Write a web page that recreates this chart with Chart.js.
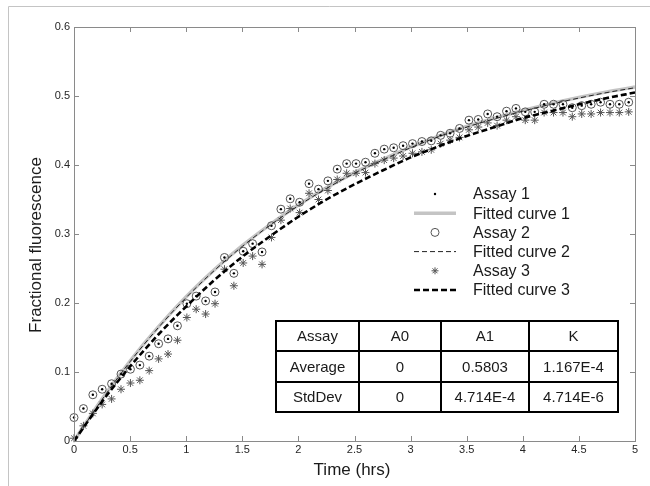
<!DOCTYPE html>
<html>
<head>
<meta charset="utf-8">
<title>Fractional fluorescence</title>
<script src="https://cdn.jsdelivr.net/npm/chart.js@4.4.1/dist/chart.umd.min.js"></script>
<style>
  body { margin: 0; background: #fff; }
  #wrap { position: relative; width: 650px; height: 486px; }
</style>
</head>
<body>
<div id="wrap"><canvas id="chart" width="650" height="486"></canvas></div>
<script>
// sample times (hrs), one reading about every 5 min
const timeHrs = [
  0, 0.084, 0.168, 0.251, 0.335, 0.419, 0.503, 0.587, 0.670, 0.754,
  0.838, 0.922, 1.006, 1.089, 1.173, 1.257, 1.341, 1.425, 1.508, 1.592,
  1.676, 1.760, 1.844, 1.927, 2.011, 2.095, 2.179, 2.263, 2.346, 2.430,
  2.514, 2.598, 2.682, 2.765, 2.849, 2.933, 3.017, 3.101, 3.184, 3.268,
  3.352, 3.436, 3.520, 3.603, 3.687, 3.771, 3.855, 3.939, 4.022, 4.106,
  4.190, 4.274, 4.358, 4.441, 4.525, 4.609, 4.693, 4.777, 4.860, 4.944
];

const assay1 = [
  0.034, 0.047, 0.067, 0.075, 0.083, 0.097, 0.104, 0.110, 0.123, 0.141,
  0.148, 0.167, 0.199, 0.210, 0.203, 0.216, 0.266, 0.243, 0.275, 0.286,
  0.274, 0.312, 0.336, 0.351, 0.346, 0.373, 0.365, 0.377, 0.394, 0.402,
  0.402, 0.404, 0.417, 0.423, 0.425, 0.428, 0.431, 0.434, 0.435, 0.443,
  0.446, 0.453, 0.465, 0.466, 0.474, 0.470, 0.478, 0.482, 0.477, 0.477,
  0.488, 0.488, 0.488, 0.483, 0.486, 0.488, 0.491, 0.488, 0.488, 0.491
];

const assay2 = [
  0.034, 0.047, 0.067, 0.075, 0.083, 0.097, 0.104, 0.110, 0.123, 0.141,
  0.148, 0.167, 0.199, 0.210, 0.203, 0.216, 0.266, 0.243, 0.275, 0.286,
  0.274, 0.312, 0.336, 0.351, 0.346, 0.373, 0.365, 0.377, 0.394, 0.402,
  0.402, 0.404, 0.417, 0.423, 0.425, 0.428, 0.431, 0.434, 0.435, 0.443,
  0.446, 0.453, 0.465, 0.466, 0.474, 0.470, 0.478, 0.482, 0.477, 0.477,
  0.488, 0.488, 0.488, 0.483, 0.486, 0.488, 0.491, 0.488, 0.488, 0.491
];

const assay3 = [
  0.004, 0.022, 0.040, 0.053, 0.061, 0.075, 0.084, 0.088, 0.102, 0.119,
  0.126, 0.146, 0.179, 0.191, 0.184, 0.199, 0.249, 0.225, 0.258, 0.268,
  0.256, 0.295, 0.320, 0.337, 0.331, 0.359, 0.350, 0.363, 0.379, 0.388,
  0.388, 0.389, 0.402, 0.407, 0.410, 0.413, 0.417, 0.419, 0.422, 0.431,
  0.436, 0.440, 0.451, 0.455, 0.461, 0.457, 0.465, 0.470, 0.465, 0.465,
  0.476, 0.476, 0.476, 0.470, 0.474, 0.474, 0.476, 0.476, 0.476, 0.477
];

// fitted curves, read every 0.25 hrs
const fitTime = [0, 0.25, 0.5, 0.75, 1, 1.25, 1.5, 1.75, 2, 2.25, 2.5,
  2.75, 3, 3.25, 3.5, 3.75, 4, 4.25, 4.5, 4.75, 5];
const fitted1 = [0, 0.061, 0.116, 0.165, 0.209, 0.248, 0.283, 0.314, 0.342, 0.367, 0.389,
  0.408, 0.426, 0.442, 0.456, 0.468, 0.479, 0.489, 0.498, 0.506, 0.513];
const fitted2 = [0, 0.060, 0.115, 0.164, 0.208, 0.247, 0.282, 0.313, 0.341, 0.366, 0.388,
  0.407, 0.425, 0.441, 0.455, 0.467, 0.478, 0.488, 0.497, 0.505, 0.512];
const fitted3 = [0, 0.057, 0.108, 0.154, 0.195, 0.233, 0.267, 0.297, 0.325, 0.350, 0.372,
  0.392, 0.411, 0.427, 0.442, 0.455, 0.468, 0.478, 0.488, 0.497, 0.505];

const xTicks = [0, 0.5, 1, 1.5, 2, 2.5, 3, 3.5, 4, 4.5, 5];
const yTicks = [0, 0.1, 0.2, 0.3, 0.4, 0.5, 0.6];

const tableHeader = ["Assay", "A0", "A1", "K"];
const tableAverage = ["Average", "0", "0.5803", "1.167E-4"];
const tableStdDev = ["StdDev", "0", "4.714E-4", "4.714E-6"];

const FONT = "'Liberation Sans', Arial, sans-serif";
const frameColor = "#8a8a8a";

function toPoints(xs, ys) {
  return xs.map((x, i) => ({ x: x, y: ys[i] }));
}

const datasets = [
  {
    label: "Fitted curve 3",
    data: toPoints(fitTime, fitted3),
    showLine: true,
    borderColor: "#000",
    borderWidth: 2.6,
    borderDash: [6, 3],
    pointRadius: 0,
    cubicInterpolationMode: "monotone"
  },
  {
    label: "Fitted curve 2",
    data: toPoints(fitTime, fitted2),
    showLine: true,
    borderColor: "#222",
    borderWidth: 1,
    borderDash: [5, 3],
    pointRadius: 0,
    cubicInterpolationMode: "monotone"
  },
  {
    label: "Assay 1",
    data: toPoints(timeHrs, assay1),
    pointStyle: "circle",
    pointRadius: 1.2,
    backgroundColor: "#000",
    borderColor: "#000",
    borderWidth: 0,
    clip: false
  },
  {
    label: "Assay 2",
    data: toPoints(timeHrs, assay2),
    pointStyle: "circle",
    pointRadius: 4,
    backgroundColor: "rgba(0,0,0,0)",
    borderColor: "#555",
    borderWidth: 1,
    clip: false
  },
  {
    label: "Assay 3",
    data: toPoints(timeHrs, assay3),
    pointStyle: "star",
    pointRadius: 4,
    borderColor: "#555",
    borderWidth: 1,
    clip: false
  },
  {
    label: "Fitted curve 1",
    data: toPoints(fitTime, fitted1),
    showLine: true,
    borderColor: "#c4c4c4",
    borderWidth: 3.5,
    pointRadius: 0,
    cubicInterpolationMode: "monotone"
  }
];

// legend order as shown on the figure
const legendOrder = ["Assay 1", "Fitted curve 1", "Assay 2", "Fitted curve 2", "Assay 3", "Fitted curve 3"];

function drawSample(ctx, ds, cx, cy) {
  ctx.save();
  if (ds.showLine) {
    ctx.strokeStyle = ds.borderColor;
    ctx.lineWidth = ds.borderWidth;
    ctx.setLineDash(ds.borderDash || []);
    ctx.beginPath();
    ctx.moveTo(cx - 21, cy);
    ctx.lineTo(cx + 21, cy);
    ctx.stroke();
  } else {
    ctx.strokeStyle = ds.borderColor;
    ctx.fillStyle = ds.backgroundColor || "rgba(0,0,0,0)";
    ctx.lineWidth = ds.borderWidth;
    Chart.helpers.drawPoint(ctx, {
      pointStyle: ds.pointStyle,
      radius: ds.pointStyle === "star" ? 3.5 : ds.pointRadius,
      rotation: 0,
      borderWidth: ds.borderWidth
    }, cx, cy);
  }
  ctx.restore();
}

const decorPlugin = {
  id: "decor",
  afterDraw(chart) {
    const ctx = chart.ctx;
    const a = chart.chartArea;
    const xs = chart.scales.x;
    const ys = chart.scales.y;

    ctx.save();
    // outer picture frame
    ctx.strokeStyle = "#c4c4c4";
    ctx.lineWidth = 1;
    ctx.beginPath();
    ctx.moveTo(650, 6.5);
    ctx.lineTo(8.5, 6.5);
    ctx.lineTo(8.5, 486);
    ctx.stroke();

    // axes box with inward ticks
    ctx.strokeStyle = frameColor;
    ctx.strokeRect(Math.round(a.left) + 0.5, Math.round(a.top) + 0.5,
      Math.round(a.right - a.left), Math.round(a.bottom - a.top));
    ctx.beginPath();
    xTicks.forEach((v) => {
      const px = Math.round(xs.getPixelForValue(v)) + 0.5;
      ctx.moveTo(px, a.bottom);
      ctx.lineTo(px, a.bottom - 5);
      ctx.moveTo(px, a.top);
      ctx.lineTo(px, a.top + 5);
    });
    yTicks.forEach((v) => {
      const py = Math.round(ys.getPixelForValue(v)) + 0.5;
      ctx.moveTo(a.left, py);
      ctx.lineTo(a.left + 5, py);
      ctx.moveTo(a.right, py);
      ctx.lineTo(a.right - 5, py);
    });
    ctx.stroke();

    // axis titles
    ctx.fillStyle = "#1a1a1a";
    ctx.font = "17px " + FONT;
    ctx.textAlign = "center";
    ctx.textBaseline = "middle";
    ctx.fillText("Time (hrs)", 352, 470);
    ctx.save();
    ctx.translate(36, 245);
    ctx.rotate(-Math.PI / 2);
    ctx.fillText("Fractional fluorescence", 0, 0);
    ctx.restore();

    // legend
    ctx.font = "16px " + FONT;
    ctx.textAlign = "left";
    legendOrder.forEach((name, i) => {
      const ds = chart.data.datasets.find((d) => d.label === name);
      const cy = 194 + i * 19.2;
      drawSample(ctx, ds, 435, cy);
      ctx.fillStyle = "#1a1a1a";
      ctx.fillText(name, 473, cy + 1);
    });

    // parameter table
    const colX = [276, 359, 441, 529, 618];
    const rowY = [321, 351, 382, 412];
    const rows = [tableHeader, tableAverage, tableStdDev];
    ctx.fillStyle = "#fff";
    ctx.fillRect(colX[0], rowY[0], colX[4] - colX[0], rowY[3] - rowY[0]);
    ctx.strokeStyle = "#000";
    ctx.lineWidth = 2;
    ctx.beginPath();
    rowY.forEach((y) => { ctx.moveTo(colX[0] - 1, y); ctx.lineTo(colX[4] + 1, y); });
    colX.forEach((x) => { ctx.moveTo(x, rowY[0]); ctx.lineTo(x, rowY[3]); });
    ctx.stroke();
    ctx.fillStyle = "#1a1a1a";
    ctx.font = "15px " + FONT;
    ctx.textAlign = "center";
    rows.forEach((row, r) => {
      row.forEach((txt, c) => {
        ctx.fillText(txt, (colX[c] + colX[c + 1]) / 2, (rowY[r] + rowY[r + 1]) / 2 + 1);
      });
    });
    ctx.restore();
  }
};

new Chart(document.getElementById("chart"), {
  type: "scatter",
  data: { datasets: datasets },
  options: {
    responsive: false,
    animation: false,
    layout: { padding: { left: 0, right: 15, top: 27, bottom: 0 } },
    plugins: { legend: { display: false }, tooltip: { enabled: false } },
    scales: {
      x: {
        type: "linear",
        min: 0,
        max: 5,
        grid: { display: false, drawTicks: false, tickLength: 0 },
        border: { display: false },
        afterBuildTicks: (s) => { s.ticks = xTicks.map((v) => ({ value: v })); },
        afterFit: (s) => { s.height = 45; },
        ticks: {
          padding: 2,
          maxRotation: 0,
          color: "#262626",
          font: { family: FONT, size: 11 },
          callback: (v) => String(v)
        }
      },
      y: {
        type: "linear",
        min: 0,
        max: 0.6,
        grid: { display: false, drawTicks: false, tickLength: 0 },
        border: { display: false },
        afterBuildTicks: (s) => { s.ticks = yTicks.map((v) => ({ value: v })); },
        afterFit: (s) => { s.width = 74; },
        ticks: {
          padding: 4,
          color: "#262626",
          font: { family: FONT, size: 11 },
          callback: (v) => String(v)
        }
      }
    }
  },
  plugins: [decorPlugin]
});
</script>
</body>
</html>
